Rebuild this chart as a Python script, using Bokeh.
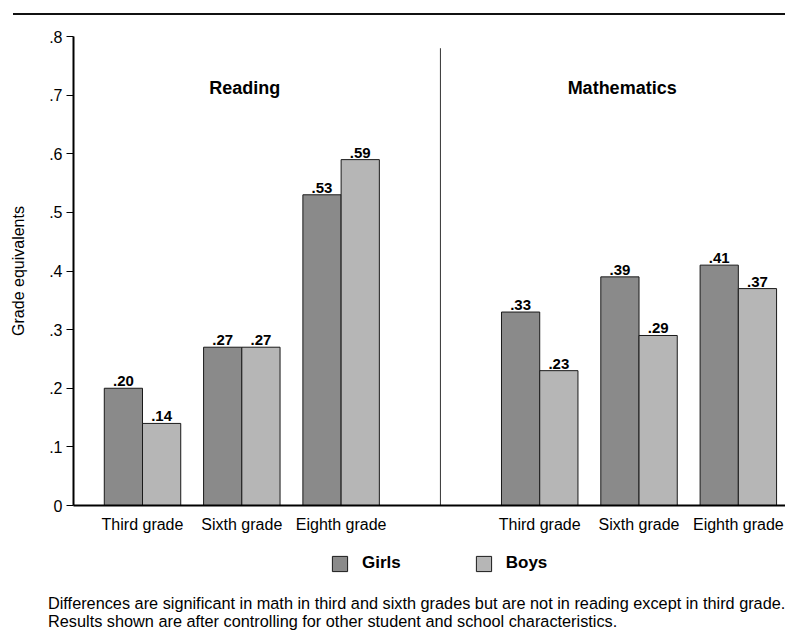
from bokeh.plotting import figure
from bokeh.models import ColumnDataSource, FixedTicker, CustomJSTickFormatter, Legend, Div
from bokeh.layouts import column
from bokeh.embed import file_html
from bokeh.resources import INLINE
from bokeh.core.properties import value

# ---- data ----
subjects = ["Reading", "Mathematics"]
grades = ["Third grade", "Sixth grade", "Eighth grade"]
girls = [0.20, 0.27, 0.53, 0.33, 0.39, 0.41]
boys = [0.14, 0.27, 0.59, 0.23, 0.29, 0.37]
series = ["Girls", "Boys"]
y_ticks = [0, 0.1, 0.2, 0.3, 0.4, 0.5, 0.6, 0.7, 0.8]
footnote = ("Differences are significant in math in third and sixth grades but are not in reading except in third grade.<br>"
            "Results shown are after controlling for other student and school characteristics.")

FONT = "Liberation Sans"
GIRLS_C = "#8a8a8a"
BOYS_C = "#b6b6b6"
EDGE = "#1a1a1a"

# positions: subject groups separated by a gap of one slot
pos = []
labels = []
for si, s in enumerate(subjects):
    for gi, g in enumerate(grades):
        pos.append(si * 4 + gi)
        labels.append(g)

bw = 0.385
fmt = lambda v: ("%.2f" % v).lstrip("0")
src = ColumnDataSource(dict(
    xg=[x - bw / 2 for x in pos],
    xb=[x + bw / 2 for x in pos],
    girls=girls, boys=boys,
    gl=[fmt(v) for v in girls], bl=[fmt(v) for v in boys],
))

p = figure(width=785, height=520, output_backend="svg", toolbar_location=None,
           x_range=(-0.695, 6.475), y_range=(0, 0.8),
           min_border_left=73, min_border_right=0, min_border_top=21, min_border_bottom=25)
p.outline_line_color = None
p.xgrid.grid_line_color = None
p.ygrid.grid_line_color = None
p.background_fill_color = "white"
p.border_fill_color = "white"

p.vbar(x="xg", top="girls", width=bw, source=src, fill_color=GIRLS_C,
       line_color=EDGE, line_width=1)
p.vbar(x="xb", top="boys", width=bw, source=src, fill_color=BOYS_C,
       line_color=EDGE, line_width=1)

for xcol, ycol, lab in (("xg", "girls", "gl"), ("xb", "boys", "bl")):
    p.text(x=xcol, y=ycol, text=lab, source=src,
           text_align="center", text_baseline="bottom", y_offset=-2,
           text_font=value(FONT), text_font_style="bold", text_font_size="15px",
           text_color="black")

# divider between subjects
p.segment(x0=[3], y0=[0], x1=[3], y1=[0.78], line_color="#333333", line_width=1)

# subject headings
p.text(x=[1.03, 4.83], y=[0.712, 0.712], text=subjects, text_align="center",
       text_baseline="middle", text_font=value(FONT), text_font_style="bold",
       text_font_size="18px", text_color="black")

# y axis
ya = p.yaxis[0]
ya.ticker = FixedTicker(ticks=y_ticks)
ya.formatter = CustomJSTickFormatter(code="return tick < 1e-9 ? '0' : tick.toFixed(1).replace(/^0/, '');")
ya.minor_tick_line_color = None
ya.major_tick_in = 0
ya.major_tick_out = 7
ya.axis_line_width = 2
ya.axis_line_color = "black"
ya.major_tick_line_color = "black"
ya.major_tick_line_width = 1
ya.major_label_text_font = FONT
ya.major_label_text_font_size = "16px"
ya.major_label_text_color = "black"
ya.major_label_standoff = 4
ya.axis_label = "Grade equivalents"
ya.axis_label_text_font = FONT
ya.axis_label_text_font_size = "16px"
ya.axis_label_text_font_style = "normal"
ya.axis_label_text_color = "black"
ya.axis_label_standoff = 19

# x axis
xa = p.xaxis[0]
xa.ticker = FixedTicker(ticks=pos)
xa.major_label_overrides = {x: l for x, l in zip(pos, labels)}
xa.major_tick_line_color = None
xa.minor_tick_line_color = None
xa.axis_line_width = 2
xa.axis_line_color = "black"
xa.major_label_text_font = FONT
xa.major_label_text_font_size = "16px"
xa.major_label_text_color = "black"
xa.major_label_standoff = 4

# legend in its own strip below the chart (frame aligned with the chart's frame)
lg = figure(width=785, height=50, output_backend="svg", toolbar_location=None,
            x_range=(0, 1), y_range=(0, 1), min_border=0)
lg.axis.visible = False
lg.grid.visible = False
lg.outline_line_color = None
lg.border_fill_color = "white"
lg.background_fill_color = "white"
# swatch renderers: placed outside the visible range, only used for the legend keys
sw_g = lg.vbar(x=[-5], top=[0], width=0.1, fill_color=GIRLS_C, line_color=EDGE)
sw_b = lg.vbar(x=[-5], top=[0], width=0.1, fill_color=BOYS_C, line_color=EDGE)
legend = Legend(items=[(series[0], [sw_g]), (series[1], [sw_b])], orientation="horizontal",
                location=(257, 12), label_text_font=FONT, label_text_font_style="bold",
                label_text_font_size="17px", label_text_color="black",
                glyph_width=19, glyph_height=19, spacing=73, label_standoff=13,
                border_line_color=None, background_fill_alpha=0, padding=0, margin=0)
lg.add_layout(legend)

top_line = Div(text="", width=772, height=15, margin=(0, 0, 0, 13),
               styles={"border-bottom": "2px solid #111", "box-sizing": "border-box"})
note = Div(text=footnote, width=785, height=45, margin=(0, 0, 0, 0),
           styles={"font-family": FONT, "font-size": "16.3px", "line-height": "18px",
                   "color": "black", "padding-left": "48px", "padding-top": "9px",
                   "box-sizing": "border-box", "white-space": "nowrap"})

layout = column(top_line, p, lg, note, spacing=0)
open("out.html", "w").write(file_html(layout, INLINE))
